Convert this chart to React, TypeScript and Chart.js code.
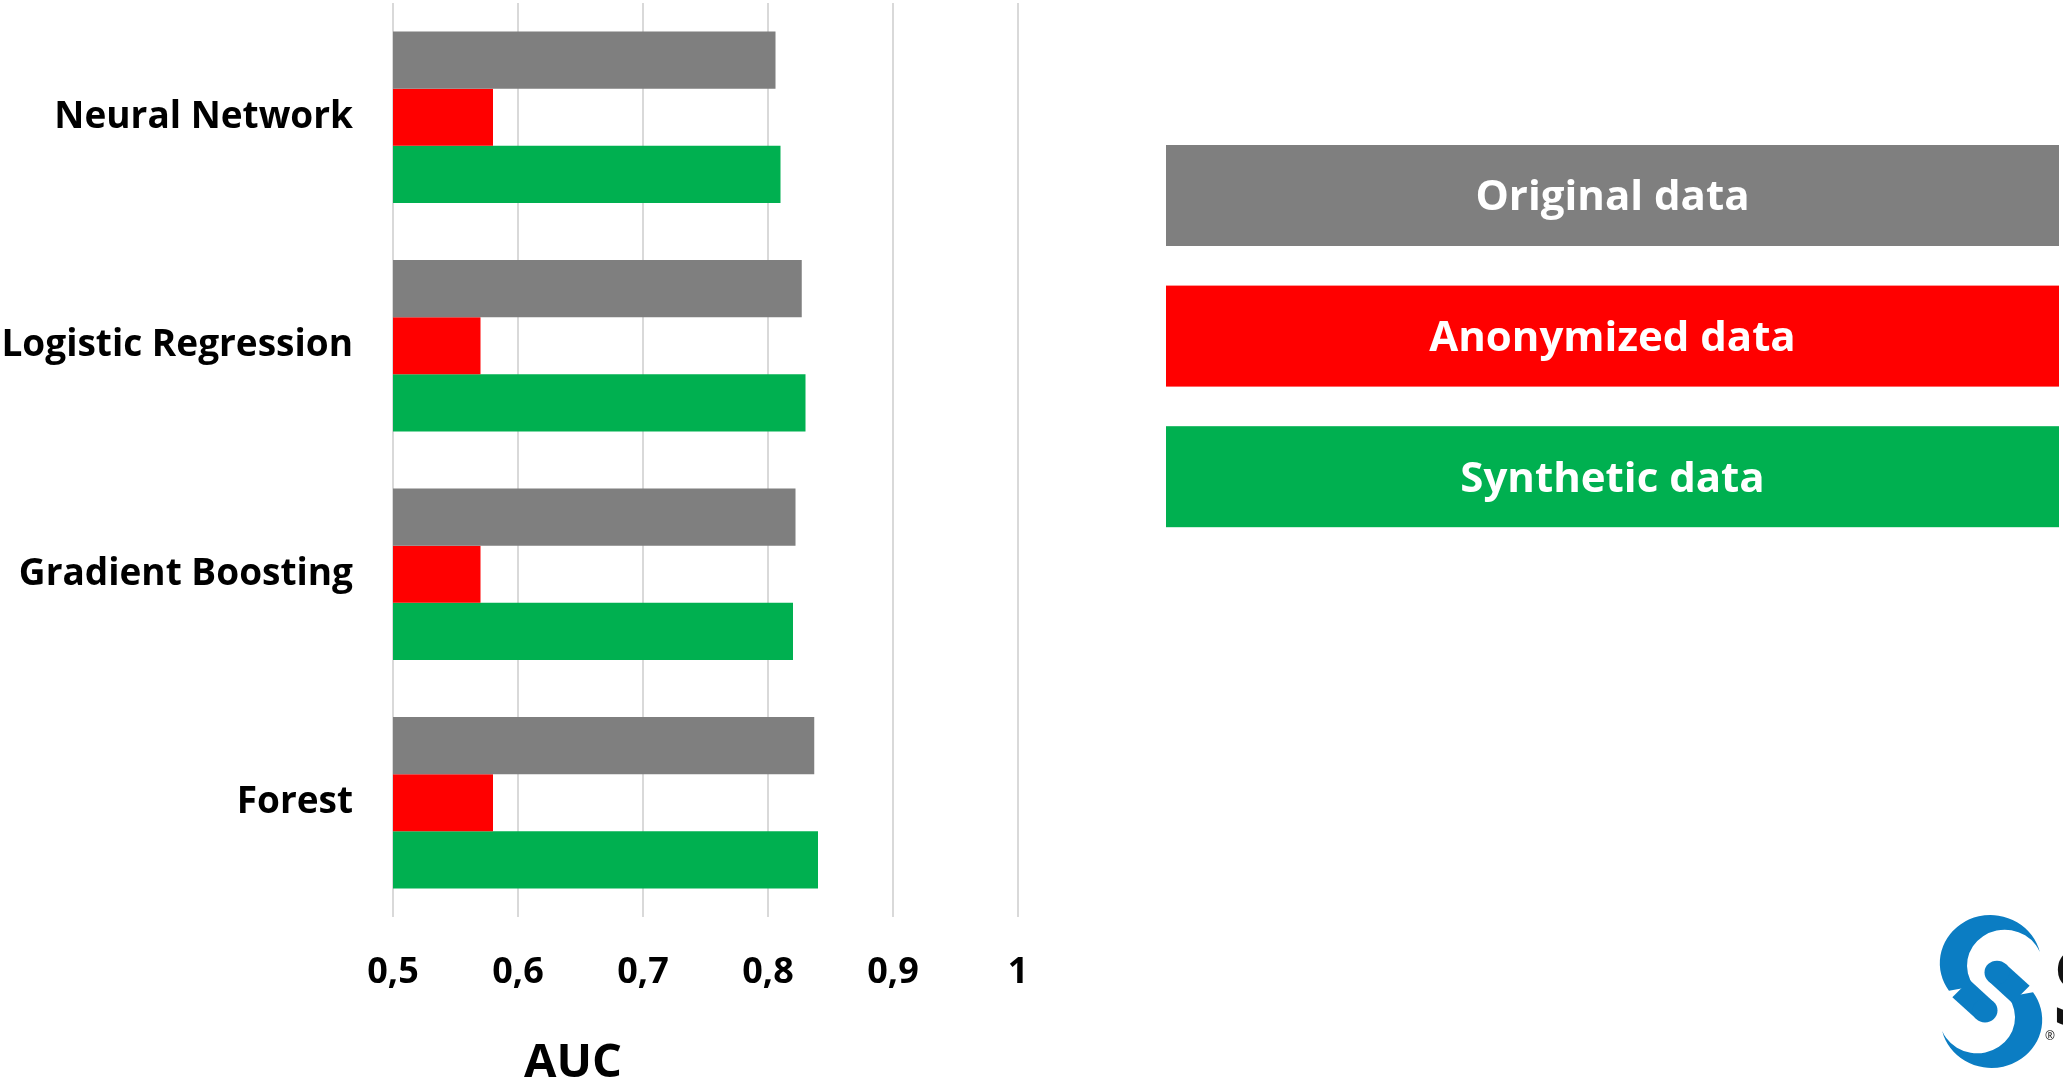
import React, { useEffect, useRef } from "react";
import { Chart, registerables } from "chart.js";

Chart.register(...registerables);

const categories = ["Neural Network", "Logistic Regression", "Gradient Boosting", "Forest"];
const originalData = [0.806, 0.827, 0.822, 0.837];
const anonymizedData = [0.58, 0.57, 0.57, 0.58];
const syntheticData = [0.81, 0.83, 0.82, 0.84];
const seriesNames = ["Original data", "Anonymized data", "Synthetic data"];
const seriesColors = ["#7f7f7f", "#ff0000", "#00b050"];
const xTicks = [0.5, 0.6, 0.7, 0.8, 0.9, 1];
const axisTitle = "AUC";

const FONT = "'Open Sans', 'Noto Sans', sans-serif";

const legendBoxPlugin = {
  id: "legendBoxes",
  afterDraw(chart: any) {
    const ctx = chart.ctx;
    ctx.save();
    chart.data.datasets.forEach((ds: any, i: number) => {
      const x = 1166;
      const y = 145 + i * 140.6;
      const w = 893;
      const h = 101;
      ctx.fillStyle = ds.backgroundColor;
      ctx.fillRect(x, y, w, h);
      ctx.fillStyle = "#ffffff";
      ctx.font = `bold 42px ${FONT}`;
      ctx.textAlign = "center";
      ctx.textBaseline = "middle";
      ctx.fillText(ds.label, x + w / 2, y + h / 2 + 3);
    });
    ctx.restore();
  },
};

const axisTitlePlugin = {
  id: "axisTitleCustom",
  afterDraw(chart: any) {
    const ctx = chart.ctx;
    ctx.save();
    ctx.fillStyle = "#000000";
    ctx.font = `bold 47px ${FONT}`;
    ctx.textAlign = "center";
    ctx.textBaseline = "middle";
    ctx.fillText(axisTitle, 573, 1064);
    ctx.restore();
  },
};

const deg = Math.PI / 180;

const logoPlugin = {
  id: "logo",
  afterDraw(chart: any) {
    const ctx = chart.ctx;
    const cx = 1991;
    const cy = 991.5;
    const blue = "#0b7dc3";
    const drawHook = () => {
      ctx.beginPath();
      ctx.arc(-0.5, -29.8, 50.7, -13.4 * deg, 145 * deg, true);
      ctx.arc(13.8, -27.3, 37.8, 145 * deg, -22.1 * deg, false);
      ctx.closePath();
      ctx.fill();
      ctx.beginPath();
      ctx.moveTo(-30, -3);
      ctx.lineTo(-6, 20);
      ctx.stroke();
      ctx.beginPath();
      ctx.arc(-6, 20, 12.5, 0, Math.PI * 2);
      ctx.fill();
    };
    ctx.save();
    ctx.fillStyle = blue;
    ctx.strokeStyle = blue;
    ctx.lineWidth = 25;
    ctx.lineCap = "butt";
    ctx.translate(cx, cy);
    ctx.scale(1, 0.95);
    drawHook();
    ctx.rotate(Math.PI);
    drawHook();
    ctx.restore();

    ctx.save();
    ctx.fillStyle = "#111111";
    ctx.font = `bold 108px ${FONT}`;
    ctx.textAlign = "left";
    ctx.textBaseline = "alphabetic";
    ctx.fillText("S", 2052, 1026);
    ctx.font = `12px ${FONT}`;
    ctx.fillText("\u00AE", 2045, 1040);
    ctx.restore();
  },
};

export default function App() {
  const canvasRef = useRef<HTMLCanvasElement | null>(null);

  useEffect(() => {
    const canvas = canvasRef.current;
    if (!canvas) return;
    const chart = new Chart(canvas, {
      type: "bar",
      data: {
        labels: categories,
        datasets: [
          { label: seriesNames[0], data: originalData, backgroundColor: seriesColors[0] },
          { label: seriesNames[1], data: anonymizedData, backgroundColor: seriesColors[1] },
          { label: seriesNames[2], data: syntheticData, backgroundColor: seriesColors[2] },
        ],
      },
      options: {
        indexAxis: "y",
        responsive: false,
        animation: false,
        devicePixelRatio: 1,
        layout: { padding: { left: 0, top: 3, right: 1045, bottom: 0 } },
        datasets: {
          bar: { categoryPercentage: 0.75, barPercentage: 1.0, borderWidth: 0 },
        },
        plugins: {
          legend: { display: false },
          tooltip: { enabled: false },
          title: { display: false },
        },
        scales: {
          x: {
            type: "linear",
            min: 0.5,
            max: 1,
            afterBuildTicks: (scale: any) => {
              scale.ticks = xTicks.map((v) => ({ value: v }));
            },
            afterFit: (scale: any) => {
              scale.height = 167;
              scale.paddingLeft = 0;
              scale.paddingRight = 0;
            },
            grid: { color: "#d9d9d9", lineWidth: 2, drawTicks: false },
            border: { display: false },
            ticks: {
              padding: 34,
              color: "#000000",
              font: { family: FONT, size: 36, weight: "bold" },
              maxRotation: 0,
              autoSkip: false,
              callback: (v: any) => String(Math.round(Number(v) * 10) / 10).replace(".", ","),
            },
          },
          y: {
            type: "category",
            afterFit: (scale: any) => {
              scale.width = 393;
              scale.paddingTop = 0;
              scale.paddingBottom = 0;
            },
            grid: { display: false, drawTicks: false },
            border: { display: false },
            ticks: {
              padding: 40,
              color: "#000000",
              font: { family: FONT, size: 37, weight: "bold" },
            },
          },
        },
      },
      plugins: [legendBoxPlugin, axisTitlePlugin, logoPlugin],
    });
    return () => chart.destroy();
  }, []);

  return (
    <div style={{ position: "fixed", left: 0, top: 0, width: 2063, height: 1084, background: "#ffffff" }}>
      <canvas ref={canvasRef} width={2063} height={1084} style={{ width: 2063, height: 1084, display: "block" }} />
    </div>
  );
}
